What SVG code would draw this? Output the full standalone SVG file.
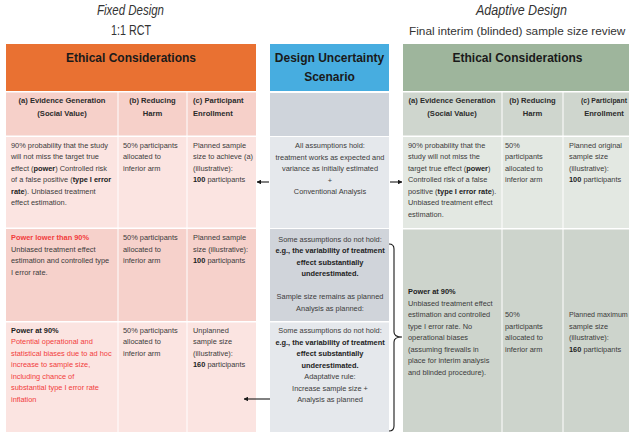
<svg xmlns="http://www.w3.org/2000/svg" width="629" height="433" viewBox="0 0 629 433">
<defs>
<style>
text{font-family:"Liberation Sans",Arial,sans-serif}
.ttl{font-size:14px;fill:#333;text-anchor:middle}
.it{font-style:italic}
.hd{font-size:12px;font-weight:bold;fill:#1a1a1a;text-anchor:middle}
.ch{font-size:7.6px;font-weight:bold;fill:#2b2b2b}
.t{font-size:7.4px;fill:#3b3b3b}
.m{text-anchor:middle}
.b{font-weight:bold}
.r{fill:#f23c3c}
.k{fill:#222}
.conn{stroke:#1a1a1a;stroke-width:1.1;fill:none}
</style>
<marker id="ah" viewBox="0 0 10 10" refX="9" refY="5" markerWidth="4.5" markerHeight="4.5" orient="auto">
<path d="M0,0 L10,5 L0,10 z" fill="#1a1a1a"/>
</marker>
</defs>
<rect width="629" height="433" fill="#fff"/>

<g id="title-fixed">
<text class="ttl it" x="130.5" y="15" textLength="67" lengthAdjust="spacingAndGlyphs">Fixed Design</text>
<text class="ttl" x="131" y="35" textLength="40" lengthAdjust="spacingAndGlyphs">1:1 RCT</text>
</g>
<g id="title-adaptive">
<text class="ttl it" x="521.5" y="15" textLength="91" lengthAdjust="spacingAndGlyphs">Adaptive Design</text>
<text style="font-size:11.8px;fill:#333" x="409" y="35">Final interim (blinded) sample size review</text>
</g>

<!-- LEFT TABLE -->
<g id="left-header">
<rect x="6" y="44" width="250" height="47" fill="#E97132"/>
<text class="hd" x="131" y="62">Ethical Considerations</text>
</g>
<g id="left-col-a">
<rect x="6" y="92.5" width="111.5" height="43" fill="#F6D0C9"/>
<text class="ch" text-anchor="middle"><tspan x="62" y="103">(a) Evidence Generation</tspan><tspan x="62" y="116">(Social Value)</tspan></text>
</g>
<g id="left-col-b">
<rect x="118.5" y="92.5" width="68" height="43" fill="#F6D0C9"/>
<text class="ch" text-anchor="middle"><tspan x="152.5" y="103">(b) Reducing</tspan><tspan x="152.5" y="116">Harm</tspan></text>
</g>
<g id="left-col-c">
<rect x="187.5" y="92.5" width="68.5" height="43" fill="#F6D0C9"/>
<text class="ch"><tspan x="193" y="103">(c) Participant</tspan><tspan x="193" y="116">Enrollment</tspan></text>
</g>

<g id="left-row1">
<rect x="6" y="137" width="111.5" height="90.5" fill="#FBE4E1"/>
<rect x="118.5" y="137" width="68" height="90.5" fill="#FBE4E1"/>
<rect x="187.5" y="137" width="68.5" height="90.5" fill="#FBE4E1"/>
<text class="t"><tspan x="11" y="147.5">90% probability that the study</tspan><tspan x="11" y="159">will not miss the target true</tspan><tspan x="11" y="170.5">effect (<tspan class="b k">power</tspan>) Controlled risk</tspan><tspan x="11" y="182">of a false positive (<tspan class="b k">type I error</tspan></tspan><tspan x="11" y="193.5"><tspan class="b k">rate</tspan>). Unbiased treatment</tspan><tspan x="11" y="205">effect estimation.</tspan></text>
<text class="t"><tspan x="123" y="147.5">50% participants</tspan><tspan x="123" y="159">allocated to</tspan><tspan x="123" y="170.5">inferior arm</tspan></text>
<text class="t"><tspan x="193" y="147.5">Planned sample</tspan><tspan x="193" y="159">size to achieve (a)</tspan><tspan x="193" y="170.5">(illustrative):</tspan><tspan x="193" y="182"><tspan class="b k">100</tspan> participants</tspan></text>
</g>

<g id="left-row2">
<rect x="6" y="229" width="111.5" height="92" fill="#F6D1CB"/>
<rect x="118.5" y="229" width="68" height="92" fill="#F6D1CB"/>
<rect x="187.5" y="229" width="68.5" height="92" fill="#F6D1CB"/>
<text class="t"><tspan x="11" y="240" class="b r">Power lower than 90%</tspan><tspan x="11" y="251.5">Unbiased treatment effect</tspan><tspan x="11" y="263">estimation and controlled  type</tspan><tspan x="11" y="274.5">I error rate.</tspan></text>
<text class="t"><tspan x="123" y="240">50% participants</tspan><tspan x="123" y="251.5">allocated to</tspan><tspan x="123" y="263">inferior arm</tspan></text>
<text class="t"><tspan x="193" y="240">Planned sample</tspan><tspan x="193" y="251.5">size (illustrative):</tspan><tspan x="193" y="263"><tspan class="b k">100</tspan> participants</tspan></text>
</g>

<g id="left-row3">
<rect x="6" y="322.5" width="111.5" height="109.5" fill="#FBE4E1"/>
<rect x="118.5" y="322.5" width="68" height="109.5" fill="#FBE4E1"/>
<rect x="187.5" y="322.5" width="68.5" height="109.5" fill="#FBE4E1"/>
<text class="t"><tspan x="11" y="332.5" class="b k">Power at 90%</tspan><tspan class="r" x="11" y="344">Potential operational and</tspan><tspan class="r" x="11" y="355.5">statistical  biases due to ad hoc</tspan><tspan class="r" x="11" y="367">increase to sample size,</tspan><tspan class="r" x="11" y="378.5">including  chance of</tspan><tspan class="r" x="11" y="390">substantial type I error rate</tspan><tspan class="r" x="11" y="401.5">inflation</tspan></text>
<text class="t"><tspan x="123" y="332.5">50% participants</tspan><tspan x="123" y="344">allocated to</tspan><tspan x="123" y="355.5">inferior arm</tspan></text>
<text class="t"><tspan x="193" y="332.5">Unplanned</tspan><tspan x="193" y="344">sample size</tspan><tspan x="193" y="355.5">(illustrative):</tspan><tspan x="193" y="367"><tspan class="b k">160</tspan> participants</tspan></text>
</g>

<!-- MIDDLE COLUMN -->
<g id="mid-header">
<rect x="270" y="44" width="119" height="47" fill="#47ADE0"/>
<text class="hd"><tspan x="329.5" y="62">Design Uncertainty</tspan><tspan x="329.5" y="80.5">Scenario</tspan></text>
</g>
<g id="mid-subheader">
<rect x="270" y="93" width="119" height="43" fill="#CFD4DB"/>
</g>
<g id="mid-row1">
<rect x="270" y="137" width="119" height="91" fill="#E5E8EC"/>
<text class="t m"><tspan x="330" y="148">All assumptions hold:</tspan><tspan x="330" y="159.5">treatment works as expected and</tspan><tspan x="330" y="171">variance as initially estimated</tspan><tspan x="330" y="182.5">+</tspan><tspan x="330" y="194">Conventional Analysis</tspan></text>
</g>
<g id="mid-row2">
<rect x="270" y="229" width="119" height="92" fill="#D0D4DA"/>
<text class="t m"><tspan x="330" y="241.5">Some assumptions do not hold:</tspan><tspan x="330" y="253" class="b k">e.g., the variability of treatment</tspan><tspan x="330" y="264.5" class="b k">effect substantially</tspan><tspan x="330" y="276" class="b k">underestimated.</tspan><tspan x="330" y="299">Sample size remains as planned</tspan><tspan x="330" y="310.5">Analysis as planned:</tspan></text>
</g>
<g id="mid-row3">
<rect x="270" y="322.5" width="119" height="109.5" fill="#E5E8EC"/>
<text class="t m"><tspan x="330" y="333">Some assumptions do not hold:</tspan><tspan x="330" y="344.5" class="b k">e.g., the variability of treatment</tspan><tspan x="330" y="356" class="b k">effect substantially</tspan><tspan x="330" y="367.5" class="b k">underestimated.</tspan><tspan x="330" y="379">Adaptative rule:</tspan><tspan x="330" y="390.5">Increase sample size +</tspan><tspan x="330" y="402">Analysis as planned</tspan></text>
</g>

<!-- RIGHT TABLE -->
<g id="right-header">
<rect x="403" y="44" width="226" height="47" fill="#9EB59C"/>
<text class="hd" x="517.5" y="62">Ethical Considerations</text>
</g>
<g id="right-col-a">
<rect x="403" y="92.5" width="98.5" height="43" fill="#CFD6CE"/>
<text class="ch" text-anchor="middle"><tspan x="452" y="103">(a) Evidence Generation</tspan><tspan x="452" y="116">(Social Value)</tspan></text>
</g>
<g id="right-col-b">
<rect x="502.5" y="92.5" width="60" height="43" fill="#CFD6CE"/>
<text class="ch" text-anchor="middle"><tspan x="532.5" y="103">(b) Reducing</tspan><tspan x="532.5" y="116">Harm</tspan></text>
</g>
<g id="right-col-c">
<rect x="563.5" y="92.5" width="65.5" height="43" fill="#CFD6CE"/>
<text class="ch" style="font-size:6.9px" x="581" y="103">(c) Participant</text>
<text class="ch" text-anchor="middle" x="604" y="116">Enrollment</text>
</g>

<g id="right-row1">
<rect x="403" y="137" width="98.5" height="91" fill="#E3E8E2"/>
<rect x="502.5" y="137" width="60" height="91" fill="#E3E8E2"/>
<rect x="563.5" y="137" width="65.5" height="91" fill="#E3E8E2"/>
<text class="t"><tspan x="408" y="147.5">90% probability that the</tspan><tspan x="408" y="159">study will not miss the</tspan><tspan x="408" y="170.5">target  true effect (<tspan class="b k">power</tspan>)</tspan><tspan x="408" y="182">Controlled risk of a false</tspan><tspan x="408" y="193.5">positive (<tspan class="b k">type I error rate</tspan>).</tspan><tspan x="408" y="205">Unbiased treatment effect</tspan><tspan x="408" y="216.5">estimation.</tspan></text>
<text class="t"><tspan x="505" y="147.5">50%</tspan><tspan x="505" y="159">participants</tspan><tspan x="505" y="170.5">allocated to</tspan><tspan x="505" y="182">inferior arm</tspan></text>
<text class="t"><tspan x="569" y="147.5">Planned original</tspan><tspan x="569" y="159">sample size</tspan><tspan x="569" y="170.5">(illustrative):</tspan><tspan x="569" y="182"><tspan class="b k">100</tspan> participants</tspan></text>
</g>

<g id="right-row23">
<rect x="403" y="229.5" width="98.5" height="202.5" fill="#CDD4CC"/>
<rect x="502.5" y="229.5" width="60" height="202.5" fill="#CDD4CC"/>
<rect x="563.5" y="229.5" width="65.5" height="202.5" fill="#CDD4CC"/>
<text class="t"><tspan x="408" y="294" class="b k">Power at 90%</tspan><tspan x="408" y="305.5">Unbiased treatment effect</tspan><tspan x="408" y="317">estimation and controlled</tspan><tspan x="408" y="328.5">type I error rate. No</tspan><tspan x="408" y="340">operational biases</tspan><tspan x="408" y="351.5">(assuming firewalls in</tspan><tspan x="408" y="363">place for interim analysis</tspan><tspan x="408" y="374.5">and blinded procedure).</tspan></text>
<text class="t"><tspan x="505" y="317">50%</tspan><tspan x="505" y="328.5">participants</tspan><tspan x="505" y="340">allocated to</tspan><tspan x="505" y="351.5">inferior arm</tspan></text>
<text class="t" style="font-size:7.1px" x="569" y="317">Planned maximum</text>
<text class="t"><tspan x="569" y="328.5">sample size</tspan><tspan x="569" y="340">(illustrative):</tspan><tspan x="569" y="351.5"><tspan class="b k">160</tspan> participants</tspan></text>
</g>

<g id="connectors">
<line class="conn" x1="269" y1="182" x2="257" y2="182" marker-end="url(#ah)"/>
<line class="conn" x1="390" y1="182" x2="402" y2="182" marker-end="url(#ah)"/>
<line class="conn" x1="270" y1="399" x2="244" y2="399" marker-end="url(#ah)"/>
<path class="conn" d="M389,244 Q394,244 394,249 L394,332 Q394,337 402,337 Q394,337 394,342 L394,426 Q394,431 389,431"/>
</g>
</svg>
